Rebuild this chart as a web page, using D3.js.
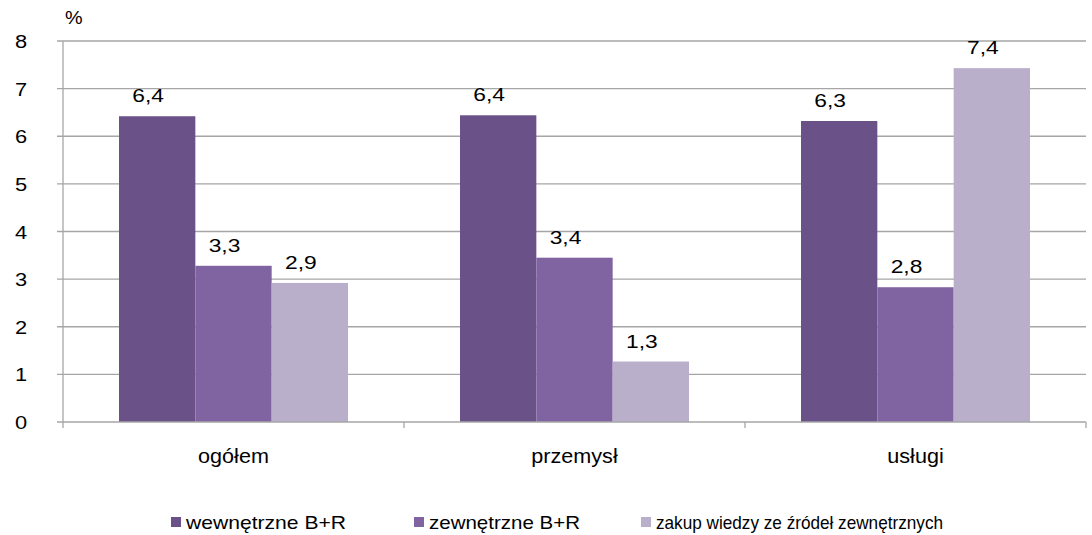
<!DOCTYPE html>
<html><head><meta charset="utf-8">
<script src="https://cdn.jsdelivr.net/npm/d3@7"></script>
<style>body{margin:0;background:#fff}svg{display:block}text{font-family:"Liberation Sans",Arial,sans-serif;fill:#000}</style>
</head><body><svg id="c" width="1092" height="535"></svg>
<script>
const categories = ["ogółem", "przemysł", "usługi"];
const seriesNames = ["wewnętrzne B+R", "zewnętrzne B+R", "zakup wiedzy ze źródeł zewnętrznych"];
const wewnetrzne = [6.42, 6.44, 6.32];
const zewnetrzne = [3.28, 3.45, 2.83];
const zakup = [2.92, 1.27, 7.43];
const labelsWew = ["6,4", "6,4", "6,3"];
const labelsZew = ["3,3", "3,4", "2,8"];
const labelsZak = ["2,9", "1,3", "7,4"];
const yTicks = [0, 1, 2, 3, 4, 5, 6, 7, 8];
const colors = ["#6a5187", "#8064a2", "#b9afca"];

const series = [wewnetrzne, zewnetrzne, zakup];
const seriesLabels = [labelsWew, labelsZew, labelsZak];
const svg = d3.select("#c");
const L = 63, R = 1086, T = 41, B = 422;
const x0 = d3.scaleBand().domain(categories).range([L, R]).paddingInner(0).paddingOuter(0);
const inner = d3.scaleBand().domain(d3.range(3)).range([56, x0.bandwidth() - 56]).padding(0);
const y = d3.scaleLinear().domain([0, 8]).range([B, T]);

function stext(g, x, yy, str, size, anchor, sx) {
  return g.append("g").attr("transform", `translate(${x},${yy})`)
    .append("text").attr("transform", `scale(${sx},1)`)
    .attr("text-anchor", anchor).style("font-size", size + "px").text(str);
}

// gridlines
svg.append("g").selectAll("line").data(yTicks.filter(d => d > 0)).join("line")
  .attr("x1", L - 6).attr("x2", R).attr("y1", d => y(d)).attr("y2", d => y(d))
  .attr("stroke", "#a6a6a6").attr("stroke-width", 1.3);

// bars
categories.forEach((c, ci) => {
  series.forEach((s, si) => {
    const bx = x0(c) + inner(si);
    svg.append("rect").attr("x", bx).attr("width", inner.bandwidth())
      .attr("y", y(s[ci])).attr("height", y(0) - y(s[ci])).attr("fill", colors[si]);
    stext(svg, bx + inner.bandwidth() / 2 - 9, y(s[ci]) - 14, seriesLabels[si][ci], 19, "middle", 1.2);
  });
});

// axes
svg.append("line").attr("x1", L).attr("x2", L).attr("y1", T).attr("y2", B + 6).attr("stroke", "#a6a6a6").attr("stroke-width", 1.3);
svg.append("line").attr("x1", L - 6).attr("x2", R).attr("y1", B).attr("y2", B).attr("stroke", "#a6a6a6").attr("stroke-width", 1.3);
yTicks.forEach(t => stext(svg, 21, y(t) + 7, String(t), 19, "middle", 1.15));
stext(svg, 65, 24, "%", 18, "start", 1.1);

const xt = categories.map(c => x0(c) + x0.bandwidth());
svg.append("g").selectAll("line").data(xt).join("line")
  .attr("x1", d => d).attr("x2", d => d).attr("y1", B).attr("y2", B + 6)
  .attr("stroke", "#a6a6a6").attr("stroke-width", 1.3);
categories.forEach(c => stext(svg, x0(c) + x0.bandwidth() / 2, 463, c, 20, "middle", 1.08));

// legend
const legX = [171, 414, 641];
const legW = [160, 151, 287];
seriesNames.forEach((n, i) => {
  svg.append("rect").attr("x", legX[i]).attr("y", 517).attr("width", 10).attr("height", 10).attr("fill", colors[i]);
  svg.append("text").attr("x", legX[i] + 15).attr("y", 529).style("font-size", "19px")
    .attr("textLength", legW[i]).attr("lengthAdjust", "spacingAndGlyphs").text(n);
});
</script></body></html>
